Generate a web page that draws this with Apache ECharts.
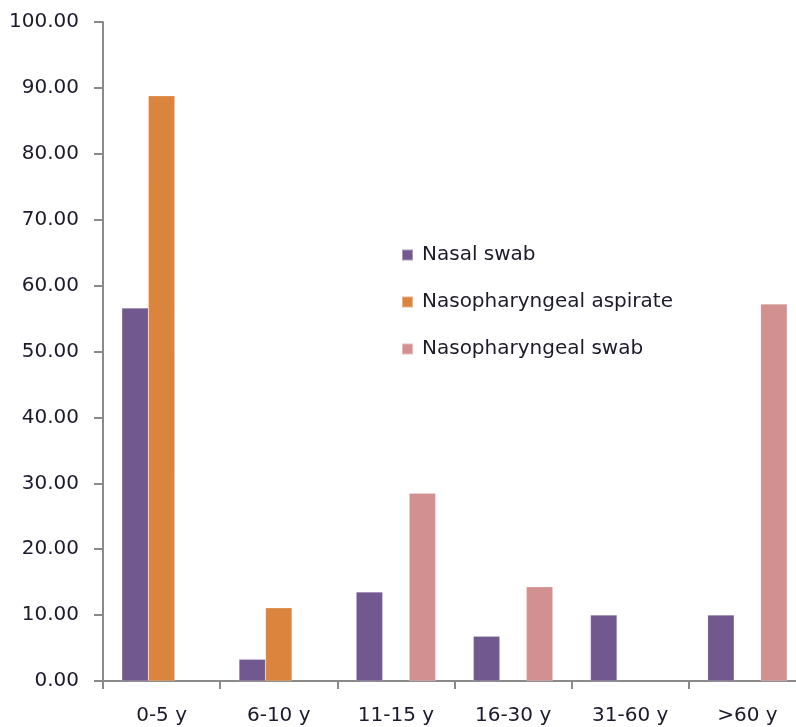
<!DOCTYPE html>
<html lang="en">
<head>
  <meta charset="UTF-8">
  <title>Sample type by age group</title>
</head>
<body style="margin:0; background-color:#ffffff; overflow:hidden;">
<div id="main" style="width:808px; height:727px;"></div>

<script src="https://cdn.jsdelivr.net/npm/echarts@6/dist/echarts.min.js"></script>

<script>
  var ageGroups = ['0-5 y', '6-10 y', '11-15 y', '16-30 y', '31-60 y', '>60 y'];
  var nasalSwab = [56.6, 3.3, 13.5, 6.8, 10.0, 10.0];
  var npAspirate = [88.8, 11.1, null, null, null, null];
  var npSwab = [null, null, 28.5, 14.3, null, 57.2];

  var seriesNames = ['Nasal swab', 'Nasopharyngeal aspirate', 'Nasopharyngeal swab'];
  var colors = ['#71588f', '#db843d', '#d29190'];

  var myChart = echarts.init(document.getElementById('main'));

  var textColor = '#1b1b2b';
  var axisColor = '#8a8a8a';

  var option = {
    animation: false,
    backgroundColor: '#ffffff',
    color: colors,
    textStyle: { fontFamily: 'DejaVu Sans' },
    legend: {
      orient: 'vertical',
      left: 396,
      top: 240,
      itemWidth: 11,
      itemHeight: 11,
      itemGap: 27,
      icon: 'rect',
      textStyle: { color: textColor, fontSize: 20, fontFamily: 'DejaVu Sans', padding: [0, 0, 0, 4] },
      data: seriesNames
    },
    grid: {
      left: 103,
      top: 22,
      bottom: 46,
      right: 2,
      containLabel: false
    },
    xAxis: {
      type: 'category',
      data: ageGroups,
      axisLine: { lineStyle: { color: axisColor, width: 2 } },
      axisTick: { show: true, length: 8, lineStyle: { color: axisColor, width: 2 } },
      axisLabel: { color: textColor, fontSize: 20, margin: 25 }
    },
    yAxis: {
      type: 'value',
      min: 0,
      max: 100,
      interval: 10,
      splitLine: { show: false },
      axisLine: { show: true, lineStyle: { color: axisColor, width: 2 } },
      axisTick: { show: true, length: 9, lineStyle: { color: axisColor, width: 2 } },
      axisLabel: {
        color: textColor,
        fontSize: 20,
        margin: 24,
        formatter: function (v) { return v.toFixed(2); }
      }
    },
    series: [
      {
        name: seriesNames[0],
        type: 'bar',
        data: nasalSwab,
        barWidth: 26.5,
        barGap: '0%',
        itemStyle: { borderColor: 'rgba(255,255,255,0.4)', borderWidth: 0.5 }
      },
      {
        name: seriesNames[1],
        type: 'bar',
        data: npAspirate,
        barWidth: 26.5,
        barGap: '0%',
        itemStyle: { borderColor: 'rgba(255,255,255,0.4)', borderWidth: 0.5 }
      },
      {
        name: seriesNames[2],
        type: 'bar',
        data: npSwab,
        barWidth: 26.5,
        barGap: '0%',
        itemStyle: { borderColor: 'rgba(255,255,255,0.4)', borderWidth: 0.5 }
      }
    ]
  };

  myChart.setOption(option);
</script>
</body>
</html>
